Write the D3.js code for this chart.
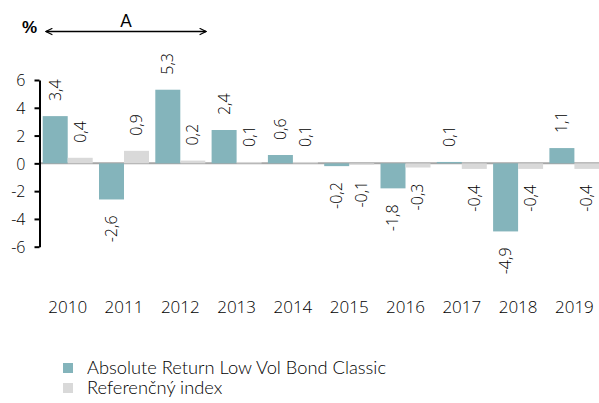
<!DOCTYPE html>
<html>
<head>
<meta charset="utf-8">
<script src="https://cdn.jsdelivr.net/npm/d3@7"></script>
<style>
  body { margin: 0; background: #fff; }
  svg { display: block; }
</style>
</head>
<body>
<div id="chart"></div>
<script>
const years = ["2010", "2011", "2012", "2013", "2014", "2015", "2016", "2017", "2018", "2019"];
const fundValues = [3.4, -2.6, 5.3, 2.4, 0.6, -0.2, -1.8, 0.1, -4.9, 1.1];
const indexValues = [0.4, 0.9, 0.2, 0.1, 0.1, -0.1, -0.3, -0.4, -0.4, -0.4];
const seriesNames = ["Absolute Return Low Vol Bond Classic", "Referenčný index"];
const yTicks = [6, 4, 2, 0, -2, -4, -6];

const colors = ["#84b4bb", "#d9d9d9"];
const width = 599, height = 403;
const numFont = "Open Sans, sans-serif";

const rows = years.map((y, i) => ({ year: y, values: [fundValues[i], indexValues[i]] }));

const svg = d3.select("#chart").append("svg")
  .attr("width", width)
  .attr("height", height);

const x = d3.scaleBand()
  .domain(years)
  .range([39.5, 602.6])
  .paddingInner(0.112)
  .paddingOuter(0.057);

const x1 = d3.scaleBand()
  .domain([0, 1])
  .range([0, x.bandwidth()]);

const y = d3.scaleLinear()
  .domain([-6, 6])
  .range([246.7, 80]);

const fmt = (v) => d3.format(".1f")(v).replace(".", ",").replace("−", "-");

// zero line
svg.append("line")
  .attr("x1", 39.5).attr("x2", width)
  .attr("y1", y(0)).attr("y2", y(0))
  .attr("stroke", "#a6a6a6")
  .attr("stroke-width", 2);

// bars
const groups = svg.selectAll(".grp")
  .data(rows)
  .join("g")
  .attr("class", "grp")
  .attr("transform", (d) => `translate(${x(d.year)},0)`);

groups.selectAll("rect")
  .data((d) => d.values.map((v, k) => ({ v, k })))
  .join("rect")
  .attr("x", (d) => x1(d.k))
  .attr("width", x1.bandwidth())
  .attr("y", (d) => y(Math.max(0, d.v)))
  .attr("height", (d) => Math.abs(y(d.v) - y(0)))
  .attr("fill", (d) => colors[d.k]);

// value labels
groups.selectAll("text.val")
  .data((d) => d.values.map((v, k) => ({ v, k })))
  .join("text")
  .attr("class", "val")
  .attr("transform", (d) => {
    const cx = x1(d.k) + x1.bandwidth() / 2;
    const cy = d.v >= 0 ? y(d.v) - 15 : y(d.v) + 16;
    return `translate(${cx + 5.5},${cy}) rotate(-90)`;
  })
  .attr("text-anchor", (d) => (d.v >= 0 ? "start" : "end"))
  .attr("font-family", numFont)
  .attr("font-weight", 300)
  .attr("font-size", 16)
  .attr("fill", "#000")
  .text((d) => fmt(d.v));

// y axis
const yAxis = d3.axisLeft(y)
  .tickValues(yTicks)
  .tickSize(5)
  .tickSizeOuter(0)
  .tickFormat((d) => String(d).replace("−", "-"));

const ya = svg.append("g")
  .attr("transform", "translate(39.5,0)")
  .call(yAxis);
ya.select(".domain").attr("stroke", "#000").attr("stroke-width", 2);
ya.selectAll(".tick line").attr("stroke", "#000").attr("stroke-width", 2);
ya.selectAll(".tick text")
  .attr("x", -14)
  .attr("dy", "0.36em")
  .attr("font-family", numFont)
  .attr("font-weight", 300)
  .attr("font-size", 16)
  .attr("fill", "#000");

// x labels
svg.append("g").selectAll("text")
  .data(years)
  .join("text")
  .attr("x", (d) => x(d) + x.bandwidth() / 2)
  .attr("y", 313)
  .attr("text-anchor", "middle")
  .attr("font-family", numFont)
  .attr("font-weight", 300)
  .attr("font-size", 17)
  .attr("fill", "#000")
  .text((d) => d);

// unit and arrow
svg.append("text")
  .attr("x", 22)
  .attr("y", 32.5)
  .attr("font-family", "Liberation Sans, Arial, sans-serif")
  .attr("font-weight", "bold")
  .attr("font-size", 17)
  .text("%");

const defs = svg.append("defs");
defs.append("marker")
  .attr("id", "arr")
  .attr("viewBox", "0 0 10 10")
  .attr("refX", 9).attr("refY", 5)
  .attr("markerWidth", 8).attr("markerHeight", 8)
  .attr("markerUnits", "userSpaceOnUse")
  .attr("orient", "auto-start-reverse")
  .append("path")
  .attr("d", "M1,1 L9,5 L1,9")
  .attr("fill", "none")
  .attr("stroke", "#000")
  .attr("stroke-width", 1.5);

svg.append("line")
  .attr("x1", 46).attr("x2", 206)
  .attr("y1", 31.5).attr("y2", 31.5)
  .attr("stroke", "#000")
  .attr("stroke-width", 1.5)
  .attr("marker-start", "url(#arr)")
  .attr("marker-end", "url(#arr)");

svg.append("text")
  .attr("x", 126)
  .attr("y", 27)
  .attr("text-anchor", "middle")
  .attr("font-family", "Lato, sans-serif")
  .attr("font-size", 17)
  .text("A");

// legend
const legend = svg.append("g").selectAll("g")
  .data(seriesNames)
  .join("g")
  .attr("transform", (d, i) => `translate(63,${363 + i * 20})`);

legend.append("rect")
  .attr("width", 10).attr("height", 10)
  .attr("fill", (d, i) => colors[i]);

legend.append("text")
  .attr("x", 24)
  .attr("y", 11)
  .attr("font-family", "Lato, sans-serif")
  .attr("font-weight", 300)
  .attr("font-size", 18.3)
  .attr("fill", "#000")
  .text((d) => d);
</script>
</body>
</html>
